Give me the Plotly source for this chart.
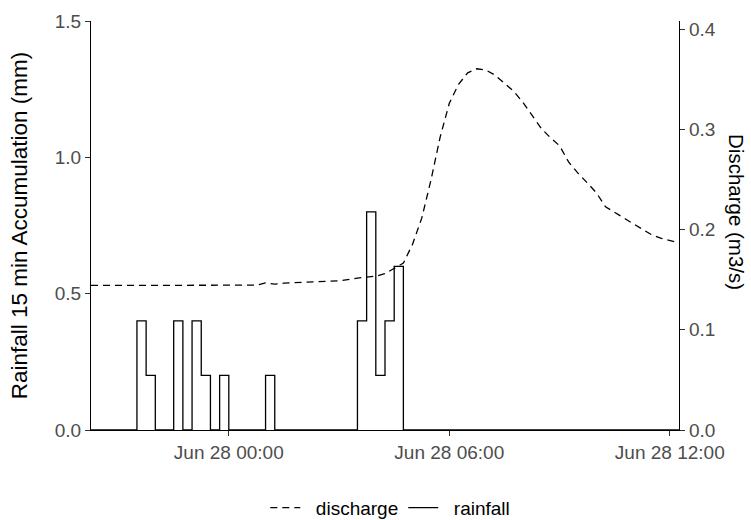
import plotly.graph_objects as go

# Rainfall (15-min accumulation, mm) - step series, change points
rain_time = ["2020-06-27 20:15", "2020-06-27 21:30", "2020-06-27 21:45", "2020-06-27 22:00",
             "2020-06-27 22:30", "2020-06-27 22:45", "2020-06-27 23:00", "2020-06-27 23:15",
             "2020-06-27 23:30", "2020-06-27 23:45", "2020-06-28 00:00", "2020-06-28 01:00",
             "2020-06-28 01:15", "2020-06-28 03:30", "2020-06-28 03:45", "2020-06-28 04:00",
             "2020-06-28 04:15", "2020-06-28 04:30", "2020-06-28 04:45", "2020-06-28 12:15"]
rain_mm = [0, 0.4, 0.2, 0, 0.4, 0, 0.4, 0.2, 0, 0.2, 0, 0.2, 0, 0.4, 0.8, 0.2, 0.4, 0.6, 0, 0]

# Discharge (m3/s)
q_time = ["2020-06-27 20:15", "2020-06-28 00:00", "2020-06-28 00:30", "2020-06-28 00:45",
          "2020-06-28 01:00", "2020-06-28 01:15", "2020-06-28 01:30", "2020-06-28 02:00",
          "2020-06-28 02:30", "2020-06-28 03:00", "2020-06-28 03:30", "2020-06-28 04:00",
          "2020-06-28 04:15", "2020-06-28 04:30", "2020-06-28 04:45", "2020-06-28 05:00",
          "2020-06-28 05:15", "2020-06-28 05:30", "2020-06-28 05:45", "2020-06-28 06:00",
          "2020-06-28 06:15", "2020-06-28 06:30", "2020-06-28 06:45", "2020-06-28 07:00",
          "2020-06-28 07:15", "2020-06-28 07:30", "2020-06-28 07:45", "2020-06-28 08:00",
          "2020-06-28 08:15", "2020-06-28 08:30", "2020-06-28 08:45", "2020-06-28 09:00",
          "2020-06-28 09:15", "2020-06-28 09:30", "2020-06-28 09:45", "2020-06-28 10:00",
          "2020-06-28 10:15", "2020-06-28 10:30", "2020-06-28 10:45", "2020-06-28 11:00",
          "2020-06-28 11:15", "2020-06-28 11:30", "2020-06-28 11:45", "2020-06-28 12:00",
          "2020-06-28 12:15"]
q_m3s = [0.1443, 0.1443, 0.1443, 0.1446, 0.1469, 0.1456, 0.1466, 0.1476, 0.1483, 0.1489,
         0.1516, 0.1536, 0.1561, 0.1616, 0.1666, 0.1855, 0.2115, 0.2494, 0.2923, 0.3262,
         0.3451, 0.3566, 0.3606, 0.3593, 0.3541, 0.3461, 0.3382, 0.3272, 0.3142, 0.3012,
         0.2918, 0.2838, 0.2673, 0.2564, 0.2469, 0.2369, 0.2229, 0.2170, 0.2115, 0.2060,
         0.2005, 0.1950, 0.1915, 0.1895, 0.1868]

x_tickvals = ["2020-06-28 00:00", "2020-06-28 06:00", "2020-06-28 12:00"]
x_ticktext = ["Jun 28 00:00", "Jun 28 06:00", "Jun 28 12:00"]
y1_ticks = [0, 0.5, 1.0, 1.5]
y2_ticks = [0, 0.1, 0.2, 0.3, 0.4]

FONT = "Liberation Sans, Arial, sans-serif"
TICKC = "#4D4D4D"

fig = go.Figure()
fig.add_trace(go.Scatter(x=q_time, y=q_m3s, name="  discharge", mode="lines", yaxis="y2",
                         line=dict(color="black", width=1.3, dash="7px,5px")))
fig.add_trace(go.Scatter(x=rain_time, y=rain_mm, name="  rainfall", mode="lines",
                         line=dict(color="black", width=1.3, shape="hv")))

axis_common = dict(showgrid=False, zeroline=False, showline=True, linecolor="black",
                   linewidth=1.3, ticks="outside", ticklen=5, tickcolor="#333333",
                   tickwidth=1.1, automargin=False,
                   tickfont=dict(family=FONT, size=19, color=TICKC))

fig.update_layout(
    width=751, height=520,
    margin=dict(l=91, r=72, t=21, b=90, autoexpand=False),
    plot_bgcolor="white", paper_bgcolor="white",
    font=dict(family=FONT, color="black"),
    xaxis=dict(type="date", range=["2020-06-27 20:15", "2020-06-28 12:15"],
               tickvals=x_tickvals, ticktext=x_ticktext, **axis_common),
    yaxis=dict(range=[0, 1.5], tickvals=y1_ticks,
               ticktext=[f"{v:.1f}" for v in y1_ticks],
               title=dict(text="Rainfall 15 min Accumulation (mm)",
                          font=dict(family=FONT, size=22.5, color="black"), standoff=20),
               **axis_common),
    yaxis2=dict(range=[0, 0.4083], overlaying="y", side="right", tickvals=y2_ticks,
                ticktext=[f"{v:.1f}" for v in y2_ticks],
                **axis_common),
    legend=dict(orientation="h", x=0.509, xanchor="center", y=-0.19, yanchor="middle",
                font=dict(family=FONT, size=19, color="black"), traceorder="normal"),
    showlegend=True,
    annotations=[dict(text="Discharge (m3/s)", textangle=90, xref="paper", yref="paper",
                      x=1.0986, y=0.533, xanchor="center", yanchor="middle",
                      showarrow=False, font=dict(family=FONT, size=20.5, color="black"))],
)

fig.write_html("out.html")
